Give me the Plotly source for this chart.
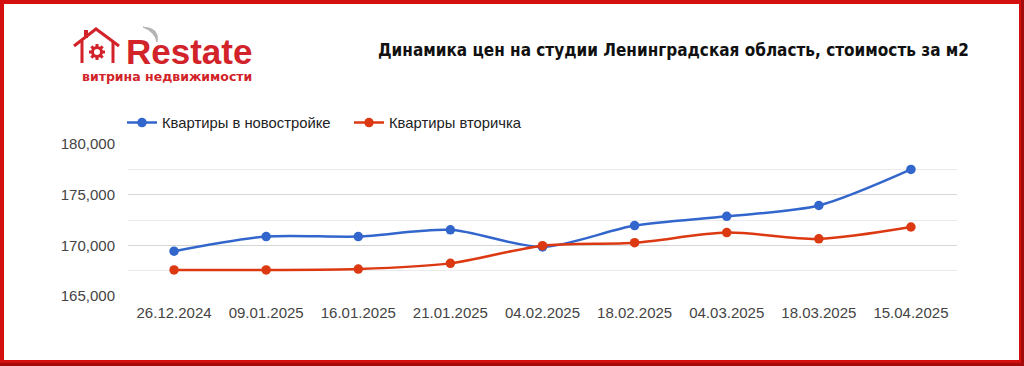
import math
import plotly.graph_objects as go

# ---- data ----
dates = ["26.12.2024", "09.01.2025", "16.01.2025", "21.01.2025", "04.02.2025",
         "18.02.2025", "04.03.2025", "18.03.2025", "15.04.2025"]
new_build = [169420, 170870, 170870, 171530, 169840, 171950, 172860, 173930, 177490]
secondary = [167570, 167570, 167660, 168220, 169970, 170260, 171260, 170640, 171810]
series_names = ["Квартиры в новостройке", "Квартиры вторичка"]
y_ticks = [165000, 170000, 175000, 180000]

title_text = "Динамика цен на студии Ленинградская область, стоимость за м2"
logo_text = "Restate"
logo_sub = "витрина недвижимости"

W, H = 1024, 366
ML, MR, MT, MB = 128, 67, 144, 70
PW, PH = W - ML - MR, H - MT - MB


def px(x):
    return (x - ML) / PW


def py(y):
    return (H - MB - y) / PH


BLUE = "#3366cc"
RED = "#dc3912"
LOGO_RED = "#d2232a"

fig = go.Figure()
fig.add_trace(go.Scatter(x=dates, y=new_build, name=series_names[0], mode="lines+markers",
                         line=dict(color=BLUE, width=2.5, shape="spline", smoothing=0.8),
                         marker=dict(color=BLUE, size=9.5)))
fig.add_trace(go.Scatter(x=dates, y=secondary, name=series_names[1], mode="lines+markers",
                         line=dict(color=RED, width=2.5, shape="spline", smoothing=0.8),
                         marker=dict(color=RED, size=9.5)))

shapes = []
# border
shapes.append(dict(type="rect", xref="paper", yref="paper",
                   x0=px(2), x1=px(1021), y0=py(2), y1=py(362),
                   line=dict(color="#d40f0f", width=4), layer="above"))
shapes.append(dict(type="line", xref="paper", yref="paper",
                   x0=px(1022.5), x1=px(1022.5), y0=py(0), y1=py(366),
                   line=dict(color="#a50a0a", width=3), layer="above"))
shapes.append(dict(type="line", xref="paper", yref="paper",
                   x0=px(0), x1=px(1024), y0=py(364.5), y1=py(364.5),
                   line=dict(color="#a50a0a", width=3), layer="above"))

# house logo
house = [(74, 46), (96, 29), (119, 46)]
path = "M " + " L ".join(f"{px(a)},{py(b)}" for a, b in house)
shapes.append(dict(type="path", xref="paper", yref="paper", path=path,
                   line=dict(color=LOGO_RED, width=3)))
walls = "M {},{} L {},{} M {},{} L {},{}".format(px(82), py(41), px(82), py(63),
                                                 px(113), py(41), px(113), py(63))
shapes.append(dict(type="path", xref="paper", yref="paper", path=walls,
                   line=dict(color=LOGO_RED, width=3)))
shapes.append(dict(type="path", xref="paper", yref="paper",
                   path=f"M {px(86)},{py(38)} L {px(86)},{py(30)}",
                   line=dict(color=LOGO_RED, width=4)))
gx, gy = 97, 52
shapes.append(dict(type="circle", xref="paper", yref="paper",
                   x0=px(gx - 4.5), x1=px(gx + 4.5), y0=py(gy + 4.5), y1=py(gy - 4.5),
                   line=dict(color=LOGO_RED, width=3)))
teeth = ""
for k in range(8):
    a = k * math.pi / 4
    teeth += f"M {px(gx + 5 * math.cos(a))},{py(gy + 5 * math.sin(a))} L {px(gx + 8 * math.cos(a))},{py(gy + 8 * math.sin(a))} "
shapes.append(dict(type="path", xref="paper", yref="paper", path=teeth,
                   line=dict(color=LOGO_RED, width=3)))
# grey swoosh above R
shapes.append(dict(type="path", xref="paper", yref="paper",
                   path=f"M {px(143)},{py(27)} Q {px(160)},{py(28)} {px(157)},{py(42)} Q {px(155)},{py(32)} {px(143)},{py(27)} Z",
                   fillcolor="#b5b5b5", line=dict(color="#b5b5b5", width=1)))

annotations = [
    dict(text=f"<b>{logo_text}</b>", xref="paper", yref="paper", x=px(124), y=py(52),
         xanchor="left", yanchor="middle", showarrow=False,
         font=dict(family="Liberation Sans, Arial", size=35, color=LOGO_RED)),
    dict(text=f"<b>{logo_sub}</b>", xref="paper", yref="paper", x=px(80), y=py(77),
         xanchor="left", yanchor="middle", showarrow=False,
         font=dict(family="DejaVu Sans", size=12.5, color=LOGO_RED)),
    dict(text=f"<b>{title_text}</b>", xref="paper", yref="paper", x=px(971), y=py(50),
         xanchor="right", yanchor="middle", showarrow=False,
         font=dict(family="DejaVu Sans Condensed", size=17, color="#111111")),
]

fig.update_layout(
    width=W, height=H,
    margin=dict(l=ML, r=MR, t=MT, b=MB),
    paper_bgcolor="white", plot_bgcolor="white",
    font=dict(family="Liberation Sans, Arial", size=15, color="#444444"),
    showlegend=True,
    legend=dict(orientation="h", x=px(122), y=py(123), xanchor="left", yanchor="middle",
                font=dict(size=14.8, color="#222222"), bgcolor="rgba(0,0,0,0)",
                entrywidth=182, entrywidthmode="pixels"),
    shapes=shapes,
    annotations=annotations,
    xaxis=dict(type="category", range=[-0.5, len(dates) - 0.5], showgrid=False,
               showline=False, zeroline=False, ticks="", ticklabelstandoff=6,
               tickfont=dict(size=15, color="#444444")),
    yaxis=dict(range=[165000, 180000], tickvals=y_ticks, tickformat=",d",
               showgrid=True, gridcolor="#d6d6d6", gridwidth=1.3,
               minor=dict(dtick=2500, showgrid=True, gridcolor="#ebebeb", gridwidth=1),
               zeroline=False, showline=False, ticks="", ticklabelstandoff=12,
               tickfont=dict(size=15, color="#444444")),
)

fig.write_html("out.html", config={"displayModeBar": False},
               post_script="document.body.style.margin='0';document.body.style.overflow='hidden';")
